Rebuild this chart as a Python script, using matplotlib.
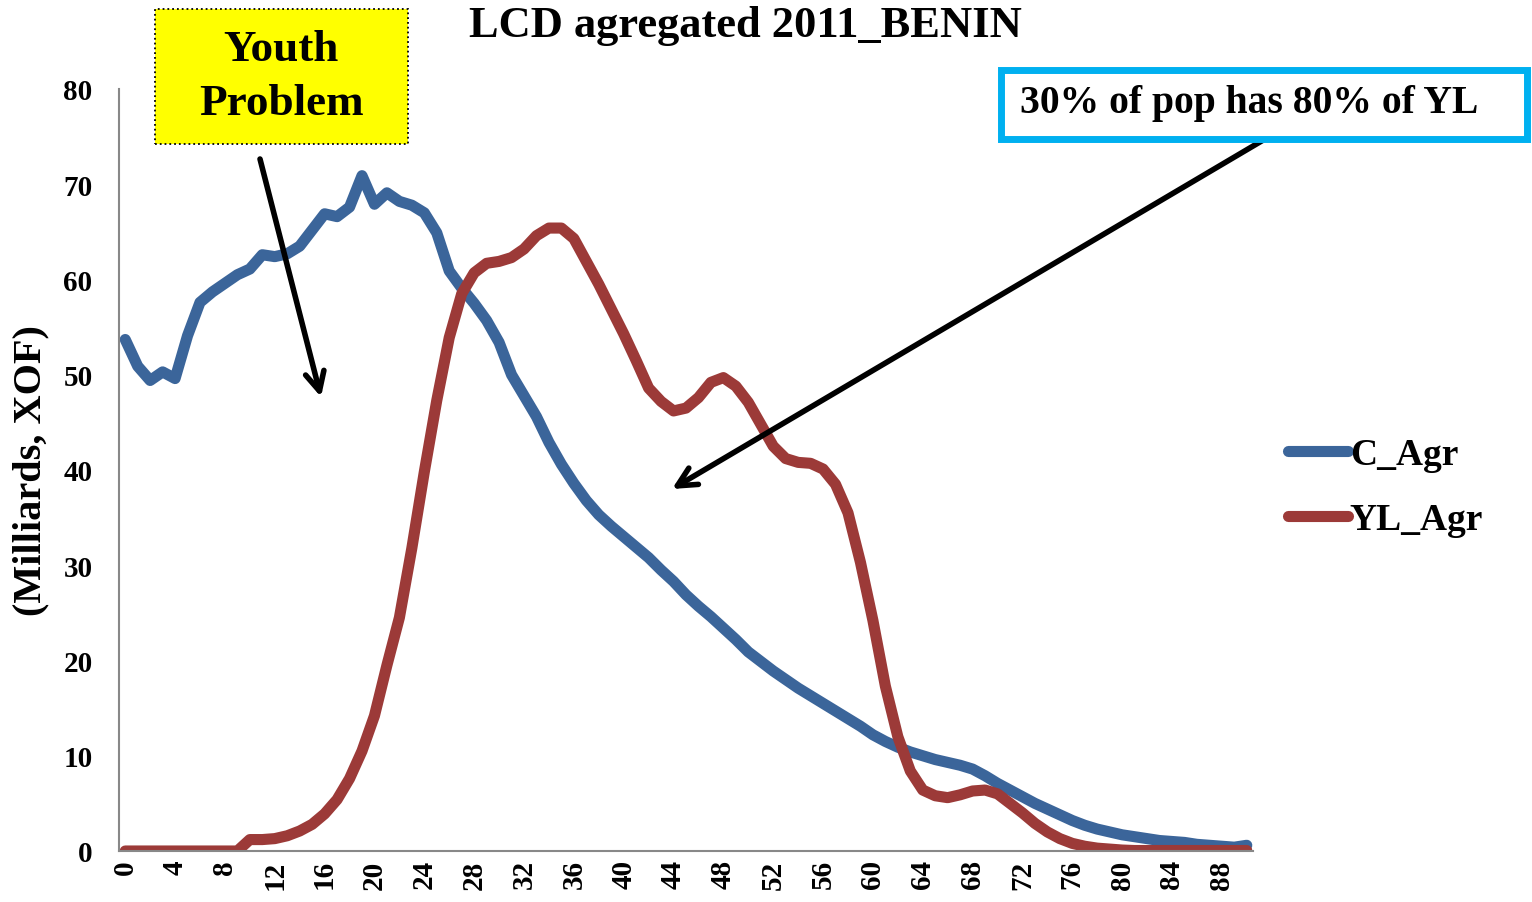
import matplotlib
matplotlib.use("Agg")
import matplotlib.pyplot as plt
from matplotlib.patches import Rectangle
import numpy as np

ages = list(range(0, 91))
c_agr = [53.7, 50.9, 49.4, 50.3, 49.6, 54.1, 57.6, 58.7, 59.6, 60.5,
         61.1, 62.6, 62.4, 62.7, 63.5, 65.2, 66.9, 66.6, 67.6, 70.9,
         67.9, 69.1, 68.2, 67.8, 67.0, 64.9, 60.9, 59.1, 57.5, 55.7,
         53.4, 50.0, 47.8, 45.6, 42.9, 40.6, 38.6, 36.8, 35.3, 34.1,
         33.0, 31.9, 30.8, 29.5, 28.3, 26.9, 25.7, 24.6, 23.4, 22.2,
         20.9, 19.9, 18.9, 18.0, 17.1, 16.3, 15.5, 14.7, 13.9, 13.1,
         12.2, 11.5, 10.9, 10.4, 10.0, 9.6, 9.3, 9.0, 8.6, 7.9,
         7.1, 6.4, 5.7, 5.0, 4.4, 3.8, 3.2, 2.7, 2.3, 2.0,
         1.7, 1.5, 1.3, 1.1, 1.0, 0.9, 0.7, 0.6, 0.5, 0.4, 0.6]
yl_agr = [0, 0, 0, 0, 0, 0, 0, 0, 0, 0,
          1.2, 1.2, 1.3, 1.6, 2.1, 2.8, 3.9, 5.4, 7.6, 10.5,
          14.2, 19.5, 24.5, 31.8, 39.8, 47.3, 53.9, 58.5, 60.7, 61.7,
          61.9, 62.3, 63.2, 64.6, 65.4, 65.4, 64.3, 61.9, 59.5, 56.9,
          54.3, 51.5, 48.6, 47.2, 46.2, 46.5, 47.6, 49.2, 49.7, 48.8,
          47.1, 44.8, 42.5, 41.2, 40.8, 40.7, 40.1, 38.5, 35.5, 30.3,
          24.2, 17.3, 12.0, 8.4, 6.4, 5.8, 5.6, 5.9, 6.3, 6.4,
          6.0, 5.0, 4.0, 2.9, 2.0, 1.3, 0.8, 0.5, 0.3, 0.2,
          0.1, 0.05, 0.05, 0.05, 0.05, 0.05, 0.05, 0.05, 0.05, 0.05, 0.05]
x_ticks = list(range(0, 89, 4))
y_ticks = list(range(0, 81, 10))

title = "LCD agregated 2011_BENIN"
ylabel = "(Milliards, XOF)"
series_names = ["C_Agr", "YL_Agr"]
colors = ["#3B659A", "#9C3A38"]

W, H = 1532, 903
plt.rcParams['font.family'] = ['Liberation Serif', 'DejaVu Serif']
plt.rcParams['font.weight'] = 'bold'
fig = plt.figure(figsize=(W / 100, H / 100), dpi=100)
ax = fig.add_axes([119 / W, (H - 852) / H, (1253 - 119) / W, (852 - 90) / H])

ax.plot(ages, c_agr, color=colors[0], lw=8, label=series_names[0], solid_joinstyle='round', solid_capstyle='round')
ax.plot(ages, yl_agr, color=colors[1], lw=8, label=series_names[1], solid_joinstyle='round', solid_capstyle='round')

ax.set_xlim(-0.5, 90.5)
ax.set_ylim(0, 80)
ax.set_xticks(x_ticks)
ax.set_xticklabels([str(t) for t in x_ticks], rotation=90, fontsize=21, fontweight='bold')
ax.set_yticks(y_ticks)
ax.set_yticklabels([str(t) for t in y_ticks], fontsize=21, fontweight='bold')
ax.tick_params(length=0, pad=6)
ax.tick_params(axis='y', pad=19)
for s in ['top', 'right']:
    ax.spines[s].set_visible(False)
for s in ['left', 'bottom']:
    ax.spines[s].set_color('#888888')
    ax.spines[s].set_linewidth(1.5)
ax.set_ylabel(ylabel, fontsize=29, fontweight='bold')
ax.yaxis.set_label_coords(-0.061, 0.5)

fig.text(745 / W, 1 - 26 / H, title, ha='center', va='center', fontsize=32, fontweight='bold')

leg = ax.legend(loc='center left', bbox_to_anchor=(1288 / W, 1 - 488 / H), bbox_transform=fig.transFigure,
                frameon=False, fontsize=27, handlelength=1.6, handletextpad=0.05, labelspacing=0.82,
                borderpad=0, borderaxespad=0)
for t in leg.get_texts():
    t.set_fontweight('bold')

# Yellow box
fig.patches.append(Rectangle((155 / W, (H - 145) / H), 253 / W, 135 / H, transform=fig.transFigure,
                             facecolor='#FFFF00', edgecolor='black', linestyle=':', lw=1.3))
fig.text(281 / W, 1 - 77 / H, "Youth\nProblem", ha='center', va='center', fontsize=32.5,
         fontweight='bold', linespacing=1.45)

# Cyan box
fig.patches.append(Rectangle((1001 / W, (H - 140) / H), 526 / W, 69 / H, transform=fig.transFigure,
                             facecolor='white', edgecolor='#00B0F0', lw=5))
fig.text(1020 / W, 1 - 103 / H, "30% of pop has 80% of YL", ha='left', va='center', fontsize=28.5,
         fontweight='bold')

# Arrows
arrow_kw = dict(arrowstyle='->', lw=4, color='black', mutation_scale=34, shrinkA=0, shrinkB=0)
ax.annotate('', xy=(321, H - 398), xytext=(260, H - 160), xycoords='figure pixels',
            textcoords='figure pixels', arrowprops=arrow_kw, annotation_clip=False)
ax.annotate('', xy=(672, H - 490), xytext=(1265, H - 140), xycoords='figure pixels',
            textcoords='figure pixels', arrowprops=arrow_kw, annotation_clip=False)

fig.savefig("out.png", dpi=100)
